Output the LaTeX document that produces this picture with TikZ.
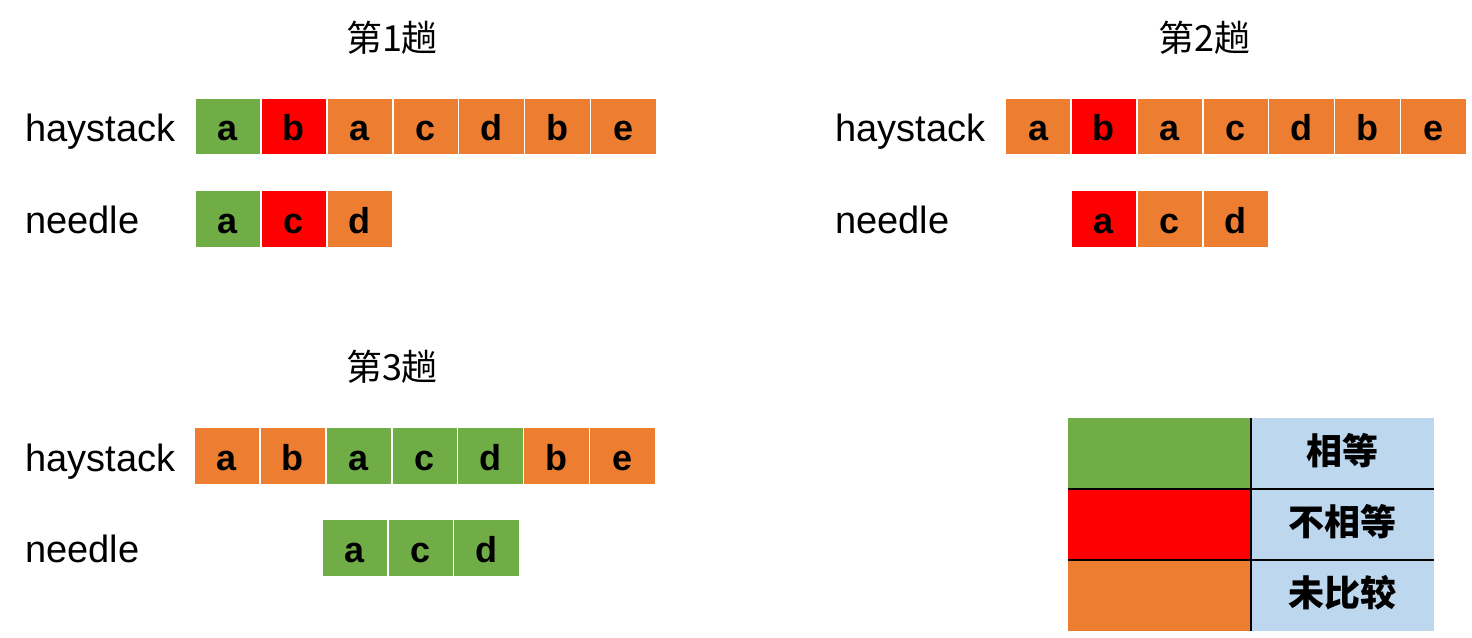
\documentclass[tikz,border=0pt]{standalone}
\usepackage{fontspec}
\setmainfont{Liberation Sans}
\newfontfamily\cjk{Noto Sans CJK SC}
\definecolor{cgreen}{HTML}{70AD47}
\definecolor{cred}{HTML}{FF0000}
\definecolor{corange}{HTML}{ED7D31}
\definecolor{cblue}{HTML}{BDD7EE}
\tikzset{
  cell/.style={fill=#1, draw=white, line width=0.8pt, minimum width=33pt, minimum height=28.5pt,
    inner sep=0pt, font=\fontsize{18}{20}\selectfont\bfseries, text height=14pt, text depth=0pt},
  rowlabel/.style={anchor=base west, inner sep=0pt, font=\fontsize{19}{22}\selectfont},
  trip/.style={inner sep=0pt, font=\cjk\fontsize{18}{20}\selectfont},
  legendtext/.style={inner sep=0pt, font=\cjk\bfseries\fontsize{18}{20}\selectfont}
}
\begin{document}
\begin{tikzpicture}[x=0.5pt, y=-0.5pt]
    % ==== Parameters ====
    \def\W{65.9}   % cell width in px
    \useasboundingbox (0,0) rectangle (1472,637);

    % ==== Trip 1 ====
    \node[trip] (t1) at (392,38) {第1趟};
    \node[rowlabel] (hl1) at (25,141) {haystack};
    \node[rowlabel] (nl1) at (25,233) {needle};
    \foreach \ch/\col [count=\i from 0] in {a/cgreen, b/cred, a/corange, c/corange, d/corange, b/corange, e/corange}{
        \node[cell=\col] (h1-\i) at (228+\i*\W,126.5) {\ch};
      }
    \foreach \ch/\col [count=\i from 0] in {a/cgreen, c/cred, d/corange}{
        \node[cell=\col] (n1-\i) at (228+\i*\W,219) {\ch};
      }

    % ==== Trip 2 ====
    \node[trip] (t2) at (1204,38) {第2趟};
    \node[rowlabel] (hl2) at (835,141) {haystack};
    \node[rowlabel] (nl2) at (835,233) {needle};
    \foreach \ch/\col [count=\i from 0] in {a/corange, b/cred, a/corange, c/corange, d/corange, b/corange, e/corange}{
        \node[cell=\col] (h2-\i) at (1038+\i*\W,126.5) {\ch};
      }
    \foreach \ch/\col [count=\i from 1] in {a/cred, c/corange, d/corange}{
        \node[cell=\col] (n2-\i) at (1038+\i*\W,219) {\ch};
      }

    % ==== Trip 3 ====
    \node[trip] (t3) at (392,367) {第3趟};
    \node[rowlabel] (hl3) at (25,471) {haystack};
    \node[rowlabel] (nl3) at (25,562) {needle};
    \foreach \ch/\col [count=\i from 0] in {a/corange, b/corange, a/cgreen, c/cgreen, d/cgreen, b/corange, e/corange}{
        \node[cell=\col] (h3-\i) at (227+\i*\W,456) {\ch};
      }
    \foreach \ch/\col [count=\i from 2] in {a/cgreen, c/cgreen, d/cgreen}{
        \node[cell=\col] (n3-\i) at (223+\i*\W,548) {\ch};
      }

    % ==== Legend ====
    \fill[cgreen]  (1068,418) rectangle (1251,489);
    \fill[cred]    (1068,489) rectangle (1251,560);
    \fill[corange] (1068,560) rectangle (1251,631);
    \fill[cblue]   (1251,418) rectangle (1434,631);
    \draw[line width=1pt] (1068,489) -- (1434,489);
    \draw[line width=1pt] (1068,560) -- (1434,560);
    \draw[line width=1pt] (1251,418) -- (1251,631);
    \node[legendtext] (eq)  at (1342,451) {相等};
    \node[legendtext] (neq) at (1342,522) {不相等};
    \node[legendtext] (nc)  at (1342,593) {未比较};
  \end{tikzpicture}
\end{document}
